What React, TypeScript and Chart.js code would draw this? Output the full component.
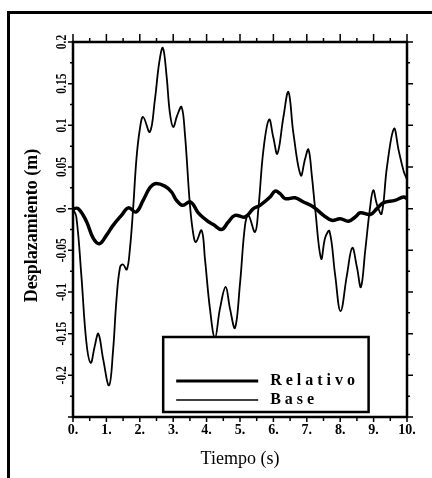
import React, { useEffect, useRef } from 'react';
import { Chart, registerables } from 'chart.js';

Chart.register(...registerables);

const baseTime = [0, 0.1, 0.25, 0.4, 0.53, 0.65, 0.76, 0.9, 1.08, 1.2, 1.3, 1.41, 1.5, 1.61, 1.7, 1.8, 1.9, 2.0, 2.1, 2.3, 2.45, 2.58, 2.69, 2.8, 2.9, 3.0, 3.12, 3.25, 3.35, 3.5, 3.6, 3.68, 3.85, 3.95, 4.1, 4.25, 4.4, 4.57, 4.7, 4.85, 5.0, 5.15, 5.25, 5.45, 5.55, 5.7, 5.87, 6.0, 6.12, 6.3, 6.45, 6.6, 6.82, 6.95, 7.05, 7.15, 7.25, 7.43, 7.55, 7.68, 7.85, 8.01, 8.2, 8.36, 8.5, 8.62, 8.75, 8.89, 8.99, 9.1, 9.24, 9.4, 9.61, 9.75, 9.9, 10];
const baseValues = [0, -0.01, -0.08, -0.16, -0.185, -0.165, -0.15, -0.18, -0.212, -0.17, -0.11, -0.07, -0.067, -0.073, -0.05, 0.0, 0.06, 0.095, 0.11, 0.092, 0.13, 0.175, 0.193, 0.16, 0.115, 0.098, 0.112, 0.122, 0.09, 0.005, -0.03, -0.04, -0.026, -0.06, -0.12, -0.155, -0.12, -0.094, -0.12, -0.143, -0.09, -0.02, -0.008, -0.028, 0.0, 0.07, 0.107, 0.085, 0.066, 0.11, 0.14, 0.09, 0.04, 0.06, 0.071, 0.04, 0.0, -0.06, -0.035, -0.027, -0.08, -0.123, -0.08, -0.047, -0.07, -0.094, -0.05, 0.0, 0.022, 0.005, -0.006, 0.05, 0.096, 0.07, 0.045, 0.035];

const relTime = [0, 0.16, 0.4, 0.6, 0.79, 1.0, 1.2, 1.45, 1.66, 1.89, 2.1, 2.3, 2.46, 2.75, 2.95, 3.1, 3.28, 3.52, 3.75, 4.0, 4.2, 4.45, 4.65, 4.85, 5.15, 5.4, 5.6, 5.9, 6.05, 6.2, 6.35, 6.65, 6.9, 7.2, 7.5, 7.75, 8.0, 8.25, 8.45, 8.6, 8.9, 9.1, 9.29, 9.64, 9.9, 10];
const relValues = [0, 0, -0.015, -0.035, -0.042, -0.032, -0.02, -0.008, 0.001, -0.004, 0.01, 0.025, 0.03, 0.027, 0.02, 0.01, 0.004, 0.008, -0.005, -0.014, -0.019, -0.025, -0.016, -0.008, -0.01, 0.0, 0.004, 0.014, 0.021, 0.018, 0.012, 0.013, 0.008, 0.002, -0.008, -0.014, -0.012, -0.015, -0.01, -0.005, -0.007, 0.0, 0.007, 0.01, 0.014, 0.012];

const xTickValues = [0, 1, 2, 3, 4, 5, 6, 7, 8, 9, 10];
const xTickLabels = ['0.', '1.', '2.', '3.', '4.', '5.', '6.', '7.', '8.', '9.', '10.'];
const yTickValues = [0.2, 0.15, 0.1, 0.05, 0, -0.05, -0.1, -0.15, -0.2];
const yTickLabels = ['0.2', '0.15', '0.1', '0.05', '0.', '-0.05', '-0.1', '-0.15', '-0.2'];
const seriesLabels = ['Relativo', 'Base'];
const xTitle = 'Tiempo (s)';
const yTitle = 'Desplazamiento (m)';

const SERIF = '"Liberation Serif", "DejaVu Serif", serif';

const framePlugin = {
  id: 'framePlugin',
  beforeDraw(chart: any) {
    const ctx = chart.ctx;
    ctx.save();
    ctx.fillStyle = '#fff';
    ctx.fillRect(0, 0, chart.width, chart.height);
    ctx.strokeStyle = '#000';
    ctx.lineWidth = 3;
    ctx.beginPath();
    ctx.moveTo(8.5, chart.height);
    ctx.lineTo(8.5, 12.5);
    ctx.lineTo(chart.width, 12.5);
    ctx.stroke();
    ctx.restore();
  },
  afterDraw(chart: any) {
    const ctx = chart.ctx;
    const a = chart.chartArea;
    const xs = chart.scales.x;
    const ys = chart.scales.y;
    ctx.save();
    ctx.strokeStyle = '#000';
    ctx.fillStyle = '#000';
    // plot frame
    ctx.lineWidth = 2.5;
    ctx.strokeRect(a.left, a.top, a.right - a.left, a.bottom - a.top);
    // ticks
    ctx.lineWidth = 1.5;
    ctx.beginPath();
    for (let i = 0; i <= 20; i++) {
      const v = xs.min + i * 0.5;
      const px = xs.getPixelForValue(v);
      const major = i % 2 === 0;
      ctx.moveTo(px, a.bottom);
      ctx.lineTo(px, a.bottom + (major ? 5 : 4));
      ctx.moveTo(px, a.top);
      ctx.lineTo(px, a.top - (major ? 8 : 4));
    }
    for (let i = 0; i <= 18; i++) {
      const v = ys.min + i * 0.025;
      const py = ys.getPixelForValue(v);
      const major = i % 2 === 0;
      ctx.moveTo(a.left, py);
      ctx.lineTo(a.left - (major ? 5 : 3), py);
      ctx.moveTo(a.right, py);
      ctx.lineTo(a.right + (major ? 6 : 3), py);
    }
    ctx.stroke();
    // x tick labels
    ctx.font = `bold 14px ${SERIF}`;
    ctx.textAlign = 'center';
    ctx.textBaseline = 'middle';
    xTickValues.forEach((v, i) => {
      ctx.fillText(xTickLabels[i], xs.getPixelForValue(v), a.bottom + 13);
    });
    // y tick labels
    yTickValues.forEach((v, i) => {
      const py = ys.getPixelForValue(v);
      ctx.save();
      ctx.translate(a.left - 11, py);
      ctx.rotate(-Math.PI / 2);
      ctx.scale(0.82, 1);
      ctx.fillText(yTickLabels[i], 0, 0);
      ctx.restore();
    });
    // titles
    ctx.font = `18px ${SERIF}`;
    ctx.fillText(xTitle, (a.left + a.right) / 2, a.bottom + 42);
    ctx.save();
    ctx.font = `bold 18px ${SERIF}`;
    ctx.translate(32, (a.top + a.bottom) / 2 - 4);
    ctx.rotate(-Math.PI / 2);
    ctx.fillText(yTitle, 0, 0);
    ctx.restore();
    // legend box
    const bx = xs.getPixelForValue(2.7);
    const bx2 = xs.getPixelForValue(8.85);
    const by = a.bottom - 80;
    const by2 = a.bottom - 5;
    ctx.fillStyle = '#fff';
    ctx.fillRect(bx, by, bx2 - bx, by2 - by);
    ctx.fillStyle = '#000';
    ctx.lineWidth = 2.5;
    ctx.strokeRect(bx, by, bx2 - bx, by2 - by);
    const ds = chart.data.datasets;
    const rows = [by + 44, by + 63];
    ds.forEach((d: any, i: number) => {
      const yy = rows[i];
      ctx.lineWidth = i === 0 ? 3.2 : 1.6;
      ctx.beginPath();
      ctx.moveTo(bx + 13, yy);
      ctx.lineTo(bx + 95, yy);
      ctx.stroke();
      ctx.font = `bold 16px ${SERIF}`;
      ctx.textAlign = 'left';
      (ctx as any).letterSpacing = '4px';
      ctx.fillText(d.label, bx + 107, yy);
      (ctx as any).letterSpacing = '0px';
    });
    ctx.restore();
  },
};

export default function App() {
  const ref = useRef<HTMLCanvasElement | null>(null);
  useEffect(() => {
    document.body.style.margin = '0';
    const canvas = ref.current;
    if (!canvas) return;
    const chart = new Chart(canvas, {
      type: 'line',
      data: {
        datasets: [
          {
            label: seriesLabels[0],
            data: relTime.map((t, i) => ({ x: t, y: relValues[i] })),
            borderColor: '#000',
            borderWidth: 3.5,
            pointRadius: 0,
            tension: 0.4,
            fill: false,
          },
          {
            label: seriesLabels[1],
            data: baseTime.map((t, i) => ({ x: t, y: baseValues[i] })),
            borderColor: '#000',
            borderWidth: 1.8,
            pointRadius: 0,
            tension: 0.4,
            fill: false,
          },
        ],
      },
      options: {
        responsive: false,
        animation: false,
        layout: { padding: { left: 73, right: 25, top: 42, bottom: 61 } },
        plugins: { legend: { display: false }, tooltip: { enabled: false } },
        scales: {
          x: { type: 'linear', min: 0, max: 10, display: false },
          y: { type: 'linear', min: -0.25, max: 0.2, display: false },
        },
      },
      plugins: [framePlugin],
    });
    return () => chart.destroy();
  }, []);
  return <canvas ref={ref} width={432} height={478} style={{ display: 'block' }} />;
}
